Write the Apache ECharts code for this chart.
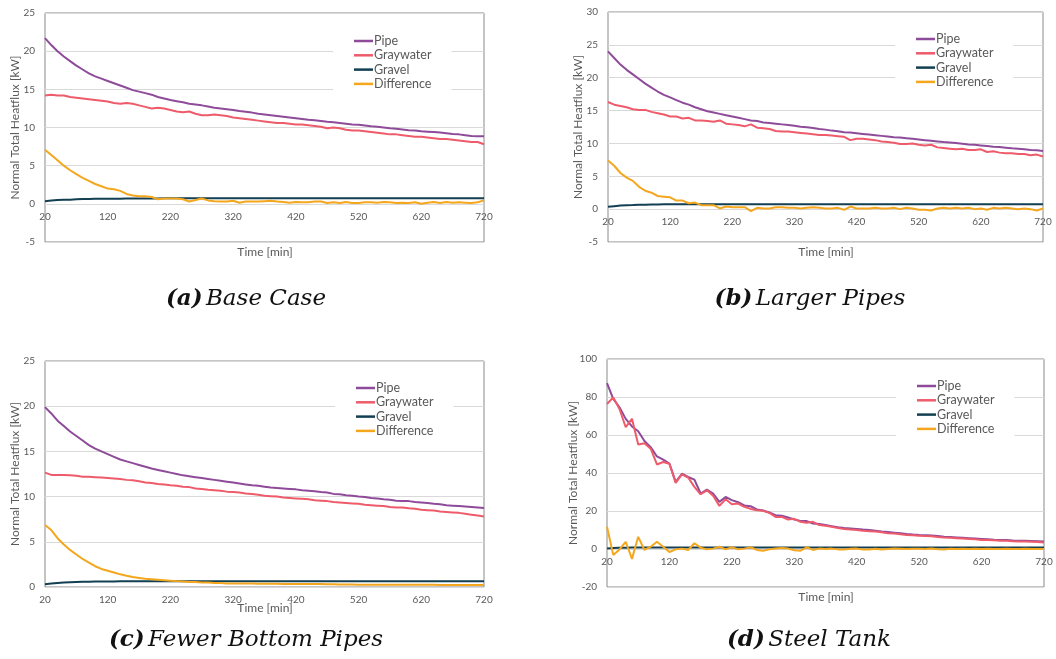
<!DOCTYPE html>
<html>
<head>
<meta charset="utf-8">
<script src="https://cdn.jsdelivr.net/npm/echarts@6/dist/echarts.min.js"></script>
<style>
  html, body { margin: 0; padding: 0; background: #ffffff; }
  #chart { width: 1056px; height: 659px; }
</style>
</head>
<body>
<div id="chart"></div>
<script>
// Time axis (min), one sample every 10 minutes
const times = [
  20, 30, 40, 50, 60, 70, 80, 90, 100, 110,
  120, 130, 140, 150, 160, 170, 180, 190, 200, 210,
  220, 230, 240, 250, 260, 270, 280, 290, 300, 310,
  320, 330, 340, 350, 360, 370, 380, 390, 400, 410,
  420, 430, 440, 450, 460, 470, 480, 490, 500, 510,
  520, 530, 540, 550, 560, 570, 580, 590, 600, 610,
  620, 630, 640, 650, 660, 670, 680, 690, 700, 710,
  720
];
const seriesNames = ['Pipe', 'Graywater', 'Gravel', 'Difference'];
const captions = [
  ['(a)', 'Base Case'],
  ['(b)', 'Larger Pipes'],
  ['(c)', 'Fewer Bottom Pipes'],
  ['(d)', 'Steel Tank']
];
const xTickLabels = [20, 120, 220, 320, 420, 520, 620, 720];

// (a) Base Case
const pipeA = [
  21.7, 20.8, 20.0, 19.3, 18.7, 18.1, 17.6, 17.1, 16.7, 16.4,
  16.1, 15.8, 15.5, 15.2, 14.9, 14.7, 14.5, 14.3, 14.0, 13.8,
  13.6, 13.45, 13.3, 13.1, 13.0, 12.9, 12.75, 12.6, 12.5, 12.4,
  12.3, 12.15, 12.05, 11.95, 11.8, 11.7, 11.6, 11.5, 11.4, 11.3,
  11.2, 11.1, 11.0, 10.95, 10.85, 10.75, 10.7, 10.6, 10.5, 10.4,
  10.35, 10.25, 10.15, 10.1, 10.0, 9.9, 9.85, 9.75, 9.65, 9.6,
  9.5, 9.45, 9.4, 9.35, 9.25, 9.15, 9.1, 9.0, 8.9, 8.85,
  8.85
];
const grayA = [
  14.2, 14.3, 14.2, 14.2, 14.0, 13.9, 13.8, 13.7, 13.6, 13.5,
  13.4, 13.2, 13.1, 13.2, 13.1, 12.9, 12.7, 12.5, 12.6, 12.5,
  12.3, 12.1, 12.0, 12.1, 11.8, 11.6, 11.6, 11.7, 11.6, 11.5,
  11.3, 11.2, 11.1, 11.0, 10.9, 10.8, 10.7, 10.6, 10.6, 10.5,
  10.4, 10.4, 10.3, 10.2, 10.1, 9.9, 10.0, 9.9, 9.7, 9.6,
  9.6, 9.5, 9.4, 9.3, 9.2, 9.1, 9.1, 9.0, 8.9, 8.8,
  8.8, 8.7, 8.6, 8.5, 8.5, 8.4, 8.3, 8.2, 8.1, 8.1,
  7.8
];
const gravelA = [
  0.35, 0.45, 0.5, 0.55, 0.55, 0.6, 0.62, 0.64, 0.65, 0.66,
  0.67, 0.68, 0.68, 0.69, 0.7, 0.7, 0.7, 0.71, 0.71, 0.72,
  0.72, 0.72, 0.72, 0.72, 0.72, 0.72, 0.72, 0.72, 0.72, 0.72,
  0.72, 0.72, 0.72, 0.72, 0.72, 0.72, 0.72, 0.72, 0.72, 0.72,
  0.72, 0.72, 0.72, 0.72, 0.72, 0.72, 0.72, 0.72, 0.72, 0.72,
  0.72, 0.72, 0.72, 0.72, 0.72, 0.72, 0.72, 0.72, 0.72, 0.72,
  0.72, 0.72, 0.72, 0.72, 0.72, 0.72, 0.72, 0.72, 0.72, 0.72,
  0.72
];
const diffA = [
  7.1, 6.4, 5.7, 5.0, 4.4, 3.9, 3.4, 3.0, 2.6, 2.3,
  2.0, 1.9, 1.7, 1.3, 1.1, 1.0, 1.0, 0.9, 0.6, 0.7,
  0.7, 0.7, 0.6, 0.3, 0.5, 0.7, 0.45, 0.35, 0.3, 0.3,
  0.4, 0.15, 0.3, 0.3, 0.3, 0.35, 0.4, 0.3, 0.25, 0.15,
  0.25, 0.2, 0.2, 0.3, 0.3, 0.1, 0.2, 0.1, 0.25, 0.1,
  0.1, 0.2, 0.2, 0.15, 0.25, 0.2, 0.1, 0.15, 0.1, 0.2,
  0.0, 0.15, 0.25, 0.1, 0.25, 0.15, 0.2, 0.15, 0.1, 0.2,
  0.45
];

// (b) Larger Pipes
const pipeB = [
  24.0, 23.0, 22.0, 21.2, 20.5, 19.8, 19.1, 18.5, 17.9, 17.4,
  17.0, 16.6, 16.2, 15.9, 15.5, 15.2, 14.9, 14.7, 14.5, 14.3,
  14.1, 13.9, 13.7, 13.5, 13.4, 13.2, 13.1, 13.0, 12.9, 12.8,
  12.7, 12.55, 12.45, 12.35, 12.2, 12.1, 11.95, 11.85, 11.7, 11.65,
  11.55, 11.45, 11.35, 11.25, 11.15, 11.05, 10.95, 10.9, 10.8, 10.7,
  10.6, 10.5, 10.4, 10.3, 10.2, 10.15, 10.05, 9.95, 9.85, 9.8,
  9.7, 9.6, 9.5, 9.45, 9.35, 9.25, 9.2, 9.1, 9.0, 8.95,
  8.85
];
const grayB = [
  16.3, 15.9, 15.7, 15.5, 15.2, 15.1, 15.1, 14.8, 14.6, 14.4,
  14.1, 14.1, 13.8, 13.9, 13.5, 13.5, 13.4, 13.3, 13.5, 13.0,
  12.9, 12.8, 12.6, 12.9, 12.4, 12.3, 12.2, 11.9, 11.8, 11.8,
  11.7, 11.6, 11.5, 11.4, 11.3, 11.3, 11.2, 11.1, 11.0, 10.5,
  10.7, 10.7, 10.6, 10.5, 10.3, 10.2, 10.1, 9.9, 9.9, 10.0,
  9.8, 9.7, 9.8, 9.4, 9.3, 9.2, 9.1, 9.2, 9.0, 9.0,
  9.1, 8.7, 8.8, 8.6, 8.5, 8.5, 8.4, 8.4, 8.2, 8.3,
  8.0
];
const gravelB = [
  0.35, 0.45, 0.55, 0.6, 0.62, 0.65, 0.68, 0.7, 0.72, 0.73,
  0.74, 0.74, 0.75, 0.75, 0.75, 0.75, 0.75, 0.75, 0.75, 0.75,
  0.75, 0.75, 0.75, 0.75, 0.75, 0.75, 0.75, 0.75, 0.75, 0.75,
  0.75, 0.75, 0.75, 0.75, 0.75, 0.75, 0.75, 0.75, 0.75, 0.75,
  0.75, 0.75, 0.75, 0.75, 0.75, 0.75, 0.75, 0.75, 0.75, 0.75,
  0.75, 0.75, 0.75, 0.75, 0.75, 0.75, 0.75, 0.75, 0.75, 0.75,
  0.75, 0.75, 0.75, 0.75, 0.75, 0.75, 0.75, 0.75, 0.75, 0.75,
  0.75
];
const diffB = [
  7.4, 6.6, 5.5, 4.8, 4.3, 3.4, 2.8, 2.5, 2.0, 1.9,
  1.8, 1.3, 1.3, 0.9, 1.0, 0.6, 0.6, 0.6, 0.1, 0.4,
  0.3, 0.3, 0.3, -0.3, 0.2, 0.1, 0.1, 0.3, 0.3, 0.2,
  0.2, 0.1, 0.2, 0.3, 0.2, 0.1, 0.1, 0.2, -0.1, 0.4,
  0.1, 0.1, 0.1, 0.2, 0.1, 0.1, 0.2, 0.0, 0.2, 0.1,
  -0.1, -0.1, -0.2, 0.1, 0.2, 0.1, 0.2, 0.1, 0.2, 0.0,
  0.1, -0.1, 0.2, 0.1, 0.2, 0.1, 0.0, 0.1, 0.0, -0.2,
  0.1
];

// (c) Fewer Bottom Pipes
const pipeC = [
  19.9, 19.2, 18.4, 17.8, 17.2, 16.7, 16.2, 15.7, 15.3, 15.0,
  14.7, 14.4, 14.1, 13.9, 13.7, 13.5, 13.3, 13.1, 12.95, 12.8,
  12.65, 12.5, 12.35, 12.25, 12.15, 12.05, 11.95, 11.85, 11.75, 11.65,
  11.55, 11.45, 11.35, 11.25, 11.2, 11.1, 11.0, 10.95, 10.9, 10.85,
  10.8, 10.7, 10.65, 10.6, 10.5, 10.45, 10.3, 10.25, 10.15, 10.1,
  10.0, 9.95, 9.85, 9.8, 9.7, 9.65, 9.55, 9.5, 9.5, 9.4,
  9.35, 9.3, 9.2, 9.15, 9.05, 9.0, 8.95, 8.9, 8.85, 8.8,
  8.75
];
const grayC = [
  12.65, 12.4, 12.4, 12.4, 12.35, 12.3, 12.2, 12.2, 12.15, 12.1,
  12.05, 12.0, 11.95, 11.85, 11.8, 11.7, 11.55, 11.5, 11.4, 11.35,
  11.25, 11.2, 11.1, 11.05, 10.9, 10.85, 10.75, 10.7, 10.65, 10.55,
  10.5, 10.45, 10.35, 10.3, 10.2, 10.1, 10.05, 10.0, 9.9, 9.85,
  9.8, 9.75, 9.7, 9.6, 9.55, 9.5, 9.4, 9.35, 9.3, 9.25,
  9.2, 9.1, 9.05, 9.0, 8.95, 8.85, 8.8, 8.8, 8.7, 8.65,
  8.55, 8.5, 8.45, 8.35, 8.3, 8.25, 8.2, 8.1, 8.0, 7.9,
  7.8
];
const gravelC = [
  0.3, 0.38, 0.44, 0.5, 0.53, 0.55, 0.57, 0.58, 0.6, 0.6,
  0.62, 0.62, 0.63, 0.63, 0.63, 0.63, 0.63, 0.63, 0.63, 0.63,
  0.63, 0.63, 0.63, 0.63, 0.63, 0.63, 0.63, 0.63, 0.63, 0.63,
  0.63, 0.63, 0.63, 0.63, 0.63, 0.63, 0.63, 0.63, 0.63, 0.63,
  0.63, 0.63, 0.63, 0.63, 0.63, 0.63, 0.63, 0.63, 0.63, 0.63,
  0.63, 0.63, 0.63, 0.63, 0.63, 0.63, 0.63, 0.63, 0.63, 0.63,
  0.63, 0.63, 0.63, 0.63, 0.63, 0.63, 0.63, 0.63, 0.63, 0.63,
  0.63
];
const diffC = [
  6.85, 6.3, 5.4, 4.7, 4.1, 3.6, 3.1, 2.7, 2.3, 2.0,
  1.8, 1.6, 1.4, 1.25, 1.1, 1.0, 0.9, 0.85, 0.8, 0.75,
  0.7, 0.65, 0.6, 0.55, 0.55, 0.5, 0.5, 0.45, 0.45, 0.4,
  0.4, 0.4, 0.38, 0.38, 0.36, 0.36, 0.35, 0.35, 0.34, 0.34,
  0.33, 0.33, 0.32, 0.32, 0.32, 0.31, 0.3, 0.28, 0.27, 0.27,
  0.26, 0.26, 0.26, 0.25, 0.25, 0.25, 0.25, 0.25, 0.24, 0.24,
  0.24, 0.24, 0.24, 0.23, 0.23, 0.23, 0.23, 0.23, 0.22, 0.22,
  0.22
];

// (d) Steel Tank
const pipeD = [
  87.3, 79.0, 74.6, 68.5, 64.5, 62.0, 56.8, 53.6, 48.7, 47.0,
  44.9, 35.3, 39.6, 37.9, 36.5, 29.2, 31.3, 29.2, 24.8, 27.4,
  25.7, 24.6, 22.9, 22.5, 20.8, 20.3, 19.2, 17.8, 17.5, 16.6,
  15.5, 14.8, 14.7, 13.4, 13.1, 12.6, 12.0, 11.4, 11.0, 10.8,
  10.5, 10.2, 10.0, 9.6, 9.2, 8.9, 8.6, 8.3, 7.9, 7.6,
  7.4, 7.3, 7.1, 6.8, 6.5, 6.3, 6.1, 5.9, 5.7, 5.5,
  5.3, 5.1, 4.9, 4.8, 4.7, 4.5, 4.4, 4.3, 4.2, 4.1,
  4.0
];
const grayD = [
  76.3, 79.8, 73.7, 64.1, 68.5, 55.0, 55.7, 52.8, 44.5, 45.8,
  44.9, 34.8, 39.3, 37.6, 32.7, 28.8, 30.9, 28.0, 22.7, 26.2,
  23.6, 23.9, 22.2, 21.1, 20.4, 20.1, 19.0, 16.9, 16.9, 15.5,
  15.9, 14.3, 13.8, 14.3, 12.6, 12.2, 11.7, 11.0, 10.5, 10.2,
  10.0, 9.6, 9.4, 9.2, 8.8, 8.3, 8.1, 7.8, 7.4, 7.3,
  7.0, 6.8, 6.7, 6.3, 6.0, 5.9, 5.7, 5.5, 5.3, 5.1,
  4.8, 4.8, 4.6, 4.4, 4.3, 4.1, 4.0, 3.9, 3.8, 3.7,
  3.4
];
const gravelD = [
  0.3, 0.5, 0.6, 0.7, 0.75, 0.8, 0.8, 0.8, 0.8, 0.8,
  0.8, 0.8, 0.8, 0.8, 0.8, 0.8, 0.8, 0.8, 0.8, 0.8,
  0.8, 0.8, 0.8, 0.8, 0.8, 0.8, 0.8, 0.8, 0.8, 0.8,
  0.8, 0.8, 0.8, 0.8, 0.8, 0.8, 0.8, 0.8, 0.8, 0.8,
  0.8, 0.8, 0.8, 0.8, 0.8, 0.8, 0.8, 0.8, 0.8, 0.8,
  0.8, 0.8, 0.8, 0.8, 0.8, 0.8, 0.8, 0.8, 0.8, 0.8,
  0.8, 0.8, 0.8, 0.8, 0.8, 0.8, 0.8, 0.8, 0.8, 0.8,
  0.8
];
const diffD = [
  11.7, -3.1, -0.2, 3.8, -5.2, 6.4, -0.5, 1.2, 3.8, 1.2,
  -1.6, -0.2, 0.2, -0.5, 3.0, 0.7, -0.2, 0.2, 1.2, -0.2,
  0.9, -0.2, 0.2, 0.9, -0.5, -0.9, -0.2, 0.3, 0.5, 0.2,
  -0.7, -0.9, 0.9, -0.5, 0.2, 0.0, 0.2, -0.2, -0.2, 0.1,
  0.2, -0.3, -0.2, 0.1, -0.3, 0.0, 0.2, 0.1, 0.0, 0.1,
  0.1, 0.0, 0.2, -0.1, -0.3, 0.1, 0.0, 0.1, 0.0, 0.1,
  0.0, 0.1, 0.0, 0.0, 0.1, 0.0, 0.0, 0.1, 0.0, 0.0,
  0.0
];

// y-axis ranges per panel: [min, max, interval]
const yRanges = [
  [-5, 25, 5],
  [-5, 30, 5],
  [0, 25, 5],
  [-20, 100, 20]
];

const panelSeries = [
  [pipeA, grayA, gravelA, diffA],
  [pipeB, grayB, gravelB, diffB],
  [pipeC, grayC, gravelC, diffC],
  [pipeD, grayD, gravelD, diffD]
];

const colors = ['#8E4B99', '#EE5B6A', '#123F52', '#F4A71E'];
const textGray = '#595959';
const uiFont = 'Lato, "Open Sans", sans-serif';

// plot rectangles [left, top, width, height]
const grids = [
  [45, 13, 439, 229],
  [608, 12, 435, 230],
  [45, 361, 439, 226],
  [607, 359, 437, 228]
];
// legend anchor [left, top]
const legendPos = [
  [333, 28],
  [895, 26],
  [335, 375],
  [896, 373]
];
// axis-title anchors
const yTitleX = [15, 578, 15, 573];
const xTitlePos = [[265, 252], [826, 252], [265, 608], [826, 597]];
const captionPos = [[246, 299], [810, 299], [246, 640], [809, 640]];

function zip(xs, ys) {
  return xs.map((x, i) => [x, ys[i]]);
}

// the time labels sit on the zero line: shift the bottom axis up by the
// height that the negative part of the value range takes
function zeroOffset(g, r) {
  return r[0] < 0 ? -g[3] * (-r[0]) / (r[1] - r[0]) : 0;
}

const option = {
  animation: false,
  backgroundColor: '#ffffff',
  grid: grids.map(g => ({
    left: g[0], top: g[1], width: g[2], height: g[3],
    show: true, borderColor: '#8a8a8a', borderWidth: 1,
    containLabel: false
  })),
  xAxis: grids.map((g, i) => ({
    type: 'value', gridIndex: i, min: 20, max: 720, interval: 100,
    position: 'bottom',
    offset: zeroOffset(g, yRanges[i]),
    axisLine: { show: false, onZero: false },
    axisTick: { show: false },
    splitLine: { show: false },
    axisLabel: {
      color: textGray, fontSize: 10, fontFamily: uiFont, margin: 8,
      customValues: xTickLabels
    }
  })),
  yAxis: yRanges.map((r, i) => ({
    type: 'value', gridIndex: i, min: r[0], max: r[1], interval: r[2],
    axisLine: { show: false },
    axisTick: { show: false },
    splitLine: { show: true, lineStyle: { color: '#d9d9d9', width: 1 } },
    axisLabel: { color: textGray, fontSize: 10, fontFamily: uiFont, margin: 10 }
  })),
  legend: legendPos.map(p => ({
    orient: 'vertical',
    left: p[0], top: p[1],
    data: seriesNames,
    icon: 'rect',
    itemWidth: 19, itemHeight: 2.5,
    itemGap: 0.3,
    selectedMode: false,
    backgroundColor: '#ffffff',
    padding: [6, 20, 6, 21],
    textStyle: {
      color: textGray, fontSize: 12.5, fontFamily: uiFont,
      lineHeight: 14, padding: [0, 0, 0, -4]
    }
  })),
  series: [],
  graphic: []
};

panelSeries.forEach((set, gi) => {
  set.forEach((vals, si) => {
    option.series.push({
      type: 'line',
      name: seriesNames[si],
      xAxisIndex: gi, yAxisIndex: gi,
      data: zip(times, vals),
      showSymbol: false,
      symbol: 'none',
      smooth: false,
      lineStyle: { color: colors[si], width: 2 },
      itemStyle: { color: colors[si] },
      z: 2 + si
    });
  });
});

// axis titles and panel captions
grids.forEach((g, i) => {
  option.graphic.push({
    type: 'text',
    x: yTitleX[i], y: g[1] + g[3] / 2,
    rotation: Math.PI / 2,
    style: {
      text: 'Normal Total Heatflux [kW]',
      fill: textGray, font: '12px ' + uiFont,
      align: 'center', verticalAlign: 'middle'
    }
  });
  option.graphic.push({
    type: 'text',
    x: xTitlePos[i][0], y: xTitlePos[i][1],
    style: {
      text: 'Time [min]',
      fill: textGray, font: '12px ' + uiFont,
      align: 'center', verticalAlign: 'middle'
    }
  });
  option.graphic.push({
    type: 'text',
    x: captionPos[i][0], y: captionPos[i][1],
    style: {
      text: '{b|' + captions[i][0] + '} {t|' + captions[i][1] + '}',
      align: 'center', verticalAlign: 'middle',
      rich: {
        b: { fontFamily: '"DejaVu Serif", serif', fontStyle: 'italic', fontWeight: 'bold', fontSize: 23, fill: '#111111', color: '#111111' },
        t: { fontFamily: '"DejaVu Serif", serif', fontStyle: 'italic', fontSize: 23, fill: '#111111', color: '#111111' }
      }
    }
  });
});

const chart = echarts.init(document.getElementById('chart'), null, { renderer: 'canvas' });
chart.setOption(option);
</script>
</body>
</html>
